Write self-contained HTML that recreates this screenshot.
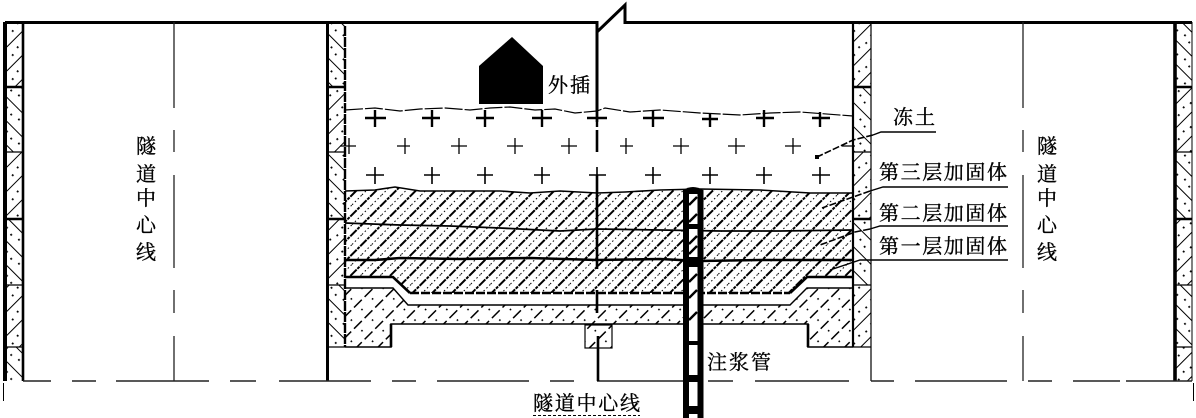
<!DOCTYPE html>
<html lang="zh">
<head>
<meta charset="utf-8">
<title>隧道注浆加固示意图</title>
<style>
html,body{margin:0;padding:0;background:#fff;width:1196px;height:418px;overflow:hidden}
svg{display:block}
text{font-family:"Liberation Serif","Noto Serif CJK SC",serif;font-size:20px;fill:#000;stroke:#000;stroke-width:.35px}
</style>
</head>
<body>
<svg width="1196" height="418" viewBox="0 0 1196 418" xmlns="http://www.w3.org/2000/svg">
<defs>
<pattern id="h" width="14" height="14" patternUnits="userSpaceOnUse" patternTransform="rotate(45 345 190)">
  <path d="M3.500 0V14" stroke="#000" stroke-width="2.300" stroke-dasharray="9 1 3 1" shape-rendering="crispEdges"/>
  <path d="M10.500 0V14" stroke="#000" stroke-width="1" stroke-dasharray="1.500 2.500" shape-rendering="crispEdges"/>
</pattern>
<pattern id="c" width="15" height="15" patternUnits="userSpaceOnUse" patternTransform="rotate(45 345 290)">
  <path d="M3.500 0V15" stroke="#000" stroke-width="1.500" stroke-dasharray="11 4" shape-rendering="crispEdges"/>
  <rect x="10" y="6" width="1.600" height="1.600" fill="#000"/>
</pattern>
<pattern id="wa" width="17" height="17" patternUnits="userSpaceOnUse" patternTransform="rotate(45)">
  <path d="M4 0V17" stroke="#000" stroke-width="1.300" shape-rendering="crispEdges"/>
  <rect x="11" y="3" width="1.800" height="1.800" fill="#000"/>
  <rect x="13" y="12" width="1.800" height="1.800" fill="#000"/>
</pattern>
<pattern id="wb" width="17" height="17" patternUnits="userSpaceOnUse" patternTransform="rotate(-45)">
  <path d="M4 0V17" stroke="#000" stroke-width="1.300" shape-rendering="crispEdges"/>
  <rect x="11" y="3" width="1.800" height="1.800" fill="#000"/>
  <rect x="13" y="12" width="1.800" height="1.800" fill="#000"/>
</pattern>
</defs>

<!-- wall panels: far left -->
<rect x="6" y="23" width="17" height="64" fill="url(#wa)"/>
<rect x="6" y="87" width="17" height="65" fill="url(#wb)"/>
<rect x="6" y="152" width="17" height="67" fill="url(#wa)"/>
<rect x="6" y="219" width="17" height="66" fill="url(#wb)"/>
<rect x="6" y="285" width="17" height="62" fill="url(#wa)"/>
<rect x="6" y="347" width="17" height="34" fill="url(#wb)"/>
<!-- second wall -->
<rect x="328" y="23" width="17" height="64" fill="url(#wb)"/>
<rect x="328" y="87" width="17" height="65" fill="url(#wa)"/>
<rect x="328" y="152" width="17" height="67" fill="url(#wb)"/>
<rect x="328" y="219" width="17" height="66" fill="url(#wa)"/>
<rect x="328" y="285" width="17" height="62" fill="url(#wb)"/>
<!-- right inner wall -->
<rect x="853" y="23" width="18" height="64" fill="url(#wa)"/>
<rect x="853" y="87" width="18" height="65" fill="url(#wb)"/>
<rect x="853" y="152" width="18" height="67" fill="url(#wa)"/>
<rect x="853" y="219" width="18" height="66" fill="url(#wb)"/>
<rect x="853" y="285" width="18" height="62" fill="url(#wa)"/>
<!-- far right -->
<rect x="1175" y="23" width="17" height="64" fill="url(#wb)"/>
<rect x="1175" y="87" width="17" height="65" fill="url(#wa)"/>
<rect x="1175" y="152" width="17" height="67" fill="url(#wb)"/>
<rect x="1175" y="219" width="17" height="66" fill="url(#wa)"/>
<rect x="1175" y="285" width="17" height="62" fill="url(#wb)"/>
<rect x="1175" y="347" width="17" height="34" fill="url(#wa)"/>

<!-- grouted body -->
<path d="M345 191L375 190 395 187 420 191 500 191 530 193 560 191 597 193 625 192 660 190 700 189 760 190 810 193 853 193V277H807L790 293H410L393 277H345Z" fill="url(#h)"/>
<path d="M345 288H393L408 305H790L807 288H853V347H808V324H391V347H345Z" fill="url(#c)"/>
<rect x="585" y="325" width="27" height="23" fill="url(#c)"/>

<!-- layer lines -->
<path d="M345 110L375 108 400 111 420 109 445 108 470 110 490 108 510 107 535 110 555 109 575 113 597 111 605 108 630 112 660 110 700 113 740 115 770 113 800 112 853 116" fill="none" stroke="#000" stroke-width="1.200" stroke-dasharray="18 2"/>
<path d="M345 191L375 190 395 187 420 191 500 191 530 193 560 191 597 193 625 192 660 190 700 189 760 190 810 193 853 193" fill="none" stroke="#000" stroke-width="1.600"/>
<path d="M345 223L400 225 450 226 500 228 560 231 597 229 660 230 720 231 780 231 853 230" fill="none" stroke="#000" stroke-width="1.800"/>
<path d="M345 260L375 260 400 258 460 259 530 258 597 260 660 259 700 261 760 260 853 260" fill="none" stroke="#000" stroke-width="2.600"/>
<path d="M345 277H393L410 293" fill="none" stroke="#000" stroke-width="2.600"/>
<path d="M410 293H790" fill="none" stroke="#000" stroke-width="2.400" stroke-dasharray="9 2"/>
<path d="M790 293L807 277H853" fill="none" stroke="#000" stroke-width="2.600"/>
<path d="M345 288H393L408 305H790L807 288H853" fill="none" stroke="#000" stroke-width="1.400"/>
<path d="M345 347H391V324H808V347H853" fill="none" stroke="#000" stroke-width="1.600"/>
<path d="M391 324V347M808 324V347" stroke="#000" stroke-width="2.600" fill="none"/>
<rect x="585" y="325" width="27" height="23" fill="none" stroke="#000" stroke-width="1.200"/>

<!-- structure -->
<path d="M5 22.500H597V32L625 5V22.500H1192" fill="none" stroke="#000" stroke-width="3"/>
<path d="M5 22V381" stroke="#000" stroke-width="4" fill="none"/>
<path d="M23 22V381" stroke="#000" stroke-width="2.600"/>
<path d="M327.500 22V381" stroke="#000" stroke-width="3"/>
<path d="M345 26V347" stroke="#000" stroke-width="2.400" stroke-dasharray="10 1"/>
<path d="M853 22V347" stroke="#000" stroke-width="2.200"/>
<path d="M871 22V381" stroke="#000" stroke-width="1.200"/>
<path d="M1175 22V381" stroke="#000" stroke-width="3.600"/>
<path d="M1192 22V381" stroke="#000" stroke-width="1"/>
<!-- panel joints -->
<path d="M5 87H23M328 87H345M853 87H871M1175 87H1192M5 219H23M328 219H345M853 219H871M1175 219H1192" stroke="#000" stroke-width="2.600"/>
<path d="M5 152H23M328 152H345M853 152H871M1175 152H1192M5 285H23M328 285H345M853 285H871M1175 285H1192M5 347H23M328 347H345M853 347H871M1175 347H1192" stroke="#000" stroke-width="1.200"/>

<!-- centre lines -->
<path d="M174 22V108M174 130V152M174 175V268M174 290V313M174 336V381M1023 22V108M1023 130V152M1023 175V268M1023 290V313M1023 336V381" stroke="#222" stroke-width="1.300" fill="none"/>
<path d="M23 381H51M72 381H96M116 381H209M230 381H256M279 381H371M392 381H416M437 381H529M550 381H574M597 381H683M708 381H733M755 381H849M871 381H894M915 381H1007M1028 381H1052M1073 381H1120M1126 381H1192" stroke="#222" stroke-width="1.500" fill="none"/>
<path d="M3.500 383V401M1193.500 383V401" stroke="#000" stroke-width="1"/>
<path d="M597 22V111" stroke="#000" stroke-width="3"/>
<path d="M597 111V122M597 130V152M597 175V269M597 290V313M598 336V381" stroke="#000" stroke-width="2.600"/>

<!-- house -->
<path d="M512 37L543 66V104H479V66Z" fill="#000"/>

<!-- plus marks -->
<path d="M365 118H386M375 110V127M422 118H440M432 110V127M476 118H494M485 110V127M532 118H552M542 110V127M587 118H607M597 110V127M643 118H664M653 110V127M702 119H718M710 113V127M756 118H774M764 110V127M812 118H830M820 112V127" stroke="#000" stroke-width="2.400" fill="none"/>
<path d="M340 146H356M349 138V154M397 146H410M405 138V154M451 146H467M459 138V154M507 146H523M515 138V154M561 146H577M569 138V154M620 146H633M626 138V154M673 146H689M681 138V154M728 146H745M736 138V154M785 146H801M793 138V154M842 146H855" stroke="#000" stroke-width="1.300" fill="none"/>
<path d="M366 175H384M375 167V184M424 175H440M432 167V184M477 175H493M485 167V184M534 175H550M542 167V184M589 175H606M597 167V184M645 175H661M653 167V184M702 175H718M710 167V184M756 175H772M764 167V184M812 175H830M820 167V184" stroke="#000" stroke-width="1.600" fill="none"/>

<!-- grouting pipe -->
<rect x="686" y="190" width="15" height="228" fill="#fff"/>
<path d="M686 190V418M700.500 190V418" stroke="#000" stroke-width="6" fill="none"/>
<path d="M683 190Q693 184 703 190V194H683Z" fill="#000"/>
<path d="M684 224H702V229H684ZM684 257H702V267H684ZM684 341H702V345H684ZM684 375H702V382H684ZM684 406H702V414H684Z" fill="#000"/>
<path d="M689 205L697 197M689 222L697 214M689 244L697 236M689 254L697 246M689 282L697 274M689 298L697 290M689 320L697 312" stroke="#000" stroke-width="2.400" fill="none"/>

<!-- leaders -->
<path d="M936 132H881L873 135" fill="none" stroke="#000" stroke-width="1.400"/>
<path d="M873 135L853 140 817 157" fill="none" stroke="#000" stroke-width="1.600" stroke-dasharray="7 2"/>
<path d="M1008 187H883L870 191" fill="none" stroke="#000" stroke-width="1.400"/>
<path d="M870 191L853 197 822 208" fill="none" stroke="#000" stroke-width="1.600" stroke-dasharray="7 2"/>
<path d="M1008 226H880L870 229" fill="none" stroke="#000" stroke-width="1.400"/>
<path d="M870 229L855 232 820 245" fill="none" stroke="#000" stroke-width="1.600" stroke-dasharray="7 2"/>
<path d="M1008 260H860L830 270" fill="none" stroke="#000" stroke-width="1.400"/>
<rect x="815" y="155" width="4" height="4" fill="#000"/>

<!-- labels -->
<text x="136" y="153">隧</text>
<text x="136" y="181">道</text>
<text x="136" y="205">中</text>
<text x="136" y="232">心</text>
<text x="136" y="259">线</text>
<text x="1037" y="153">隧</text>
<text x="1037" y="181">道</text>
<text x="1037" y="205">中</text>
<text x="1037" y="232">心</text>
<text x="1037" y="259">线</text>
<text x="548" y="92" textLength="42">外插</text>
<text x="893" y="124" textLength="42">冻土</text>
<text x="879" y="179" textLength="128">第三层加固体</text>
<text x="879" y="220" textLength="128">第二层加固体</text>
<text x="879" y="253" textLength="128">第一层加固体</text>
<text x="707" y="369" textLength="64">注浆管</text>
<text x="533" y="410" textLength="107">隧道中心线</text>
<path d="M533 415.500H640" stroke="#000" stroke-width="1" stroke-dasharray="3 2"/>
</svg>
</body>
</html>
